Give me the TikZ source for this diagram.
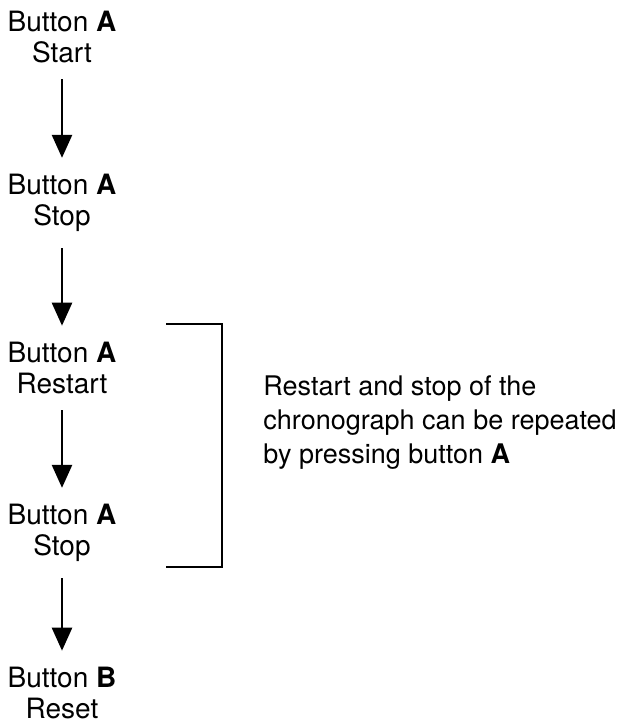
\documentclass[tikz,border=0pt]{standalone}
\usepackage{fontspec}
\setmainfont{TeX Gyre Heros}
\usetikzlibrary{arrows.meta}
\tikzset{
  btn/.style={align=center, inner xsep=0pt, inner ysep=8pt, font=\fontsize{14}{15.5}\selectfont},
  push/.style={-{Triangle[width=10pt,length=11.5pt]}, line width=1.3pt},
}

\begin{document}
\begin{tikzpicture}[x=0.5pt,y=-0.5pt]
  \useasboundingbox (0,0) rectangle (622,722);
  \node (startA) at (62,37)  [btn] {Button \textbf{A}\\Start};
  \node (stopA) at (62,203)  [btn] {Button \textbf{A}\\Stop};
  \node (restartA) at (62,368)  [btn] {Button \textbf{A}\\Restart};
  \node (stopB) at (62,533)  [btn] {Button \textbf{A}\\Stop};
  \node (resetB) at (62,693)  [btn] {Button \textbf{B}\\Reset};

  \draw[push] (startA) -- (stopA);
  \draw[push] (stopA) -- (restartA);
  \draw[push] (restartA) -- (stopB);
  \draw[push] (stopB) -- (resetB);

  % bracket round the repeated part
  \coordinate (brtop) at (166,324);
  \coordinate (brbot) at (166,567);
  \draw[line width=1pt] (brtop) -- ++(56,0) |- (brbot);
  \node (note) at (263,423)  [anchor=west, align=left, inner sep=0pt, font=\fontsize{13.5}{17}\selectfont] {Restart and stop of the\\chronograph can be repeated\\by pressing button \textbf{A}};
\end{tikzpicture}
\end{document}
